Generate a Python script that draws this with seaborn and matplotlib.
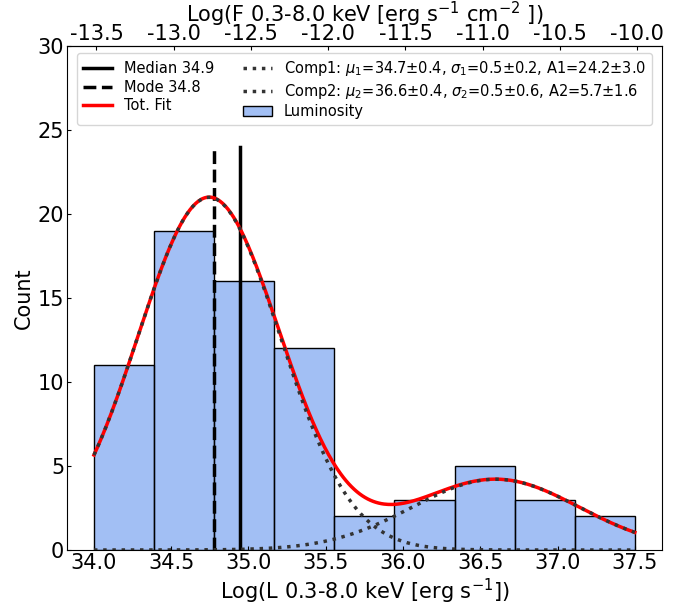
import numpy as np
import pandas as pd
import matplotlib
matplotlib.use("Agg")
import matplotlib.pyplot as plt
import seaborn as sns

# Histogram of X-ray luminosities (9 equal bins between the min and max value)
lum_min, lum_max = 34.0, 37.5
counts = [11, 19, 16, 12, 2, 3, 5, 3, 2]

# Summary statistics
median_lum = 34.945
mode_lum = 34.78
stat_line_top = 24

# Two-component Gaussian fit (area-normalised amplitudes)
mu1, sig1, amp1 = 34.745, 0.46, 24.2
mu2, sig2, amp2 = 36.60, 0.54, 5.7
comp1_label = r"Comp1: $\mu_1$=34.7$\pm$0.4, $\sigma_1$=0.5$\pm$0.2, A1=24.2$\pm$3.0"
comp2_label = r"Comp2: $\mu_2$=36.6$\pm$0.4, $\sigma_2$=0.5$\pm$0.6, A2=5.7$\pm$1.6"

# Offset between log luminosity and log flux
flux_offset = 47.516
flux_ticks = [-13.5, -13.0, -12.5, -12.0, -11.5, -11.0, -10.5, -10.0]


def gauss(x, mu, sig, amp):
    return amp / (sig * np.sqrt(2 * np.pi)) * np.exp(-(x - mu) ** 2 / (2 * sig ** 2))


edges = np.linspace(lum_min, lum_max, len(counts) + 1)
centers = 0.5 * (edges[:-1] + edges[1:])
df = pd.DataFrame({"lum": centers, "n": counts})

plt.rcParams["font.family"] = ["DejaVu Sans"]
plt.rcParams["axes.unicode_minus"] = False
fig = plt.figure(figsize=(6.83, 6.04), dpi=100)
ax = fig.add_axes([0.098, 0.0894, 0.871, 0.8346])

ln_med, = ax.plot([median_lum, median_lum], [0, stat_line_top], color="black",
                  lw=2.5, ls="-", label=f"Median {median_lum:.1f}")
ln_mode, = ax.plot([mode_lum, mode_lum], [0, stat_line_top], color="black",
                   lw=2.5, ls="--", label=f"Mode {mode_lum:.1f}")

xx = np.linspace(lum_min, lum_max, 400)
c1 = gauss(xx, mu1, sig1, amp1)
c2 = gauss(xx, mu2, sig2, amp2)
ln_tot, = ax.plot(xx, c1 + c2, color="red", lw=2.5, label="Tot. Fit")
ln_c1, = ax.plot(xx, c1, color="#333333", lw=2.5, ls=":", label=comp1_label)
ln_c2, = ax.plot(xx, c2, color="#333333", lw=2.5, ls=":", label=comp2_label)

sns.histplot(data=df, x="lum", weights="n", bins=len(counts),
             binrange=(lum_min, lum_max), ax=ax,
             color="cornflowerblue", alpha=0.6, edgecolor="black",
             linewidth=1.0, label="Luminosity")
bars = ax.containers[0]

ax.set_xlim(33.825, 37.675)
ax.set_ylim(0, 30)
ax.set_yticks([0, 5, 10, 15, 20, 25, 30])
ax.set_xticks([34.0, 34.5, 35.0, 35.5, 36.0, 36.5, 37.0, 37.5])
ax.set_xlabel(r"Log(L 0.3-8.0 keV [erg s$^{-1}$])", fontsize=15, labelpad=3)
ax.set_ylabel("Count", fontsize=15, labelpad=2.4)
ax.tick_params(axis="both", labelsize=15, direction="in", length=3, pad=2)

sec = ax.secondary_xaxis("top", functions=(lambda L: L - flux_offset,
                                            lambda F: F + flux_offset))
sec.set_xticks(flux_ticks)
sec.set_xlabel(r"Log(F 0.3-8.0 keV [erg s$^{-1}$ cm$^{-2}$ ])", fontsize=15, labelpad=1.3)
sec.tick_params(axis="x", labelsize=15, direction="in", length=3, pad=1.5)

handles = [ln_med, ln_mode, ln_tot, ln_c1, ln_c2, bars]
labels = [h.get_label() for h in handles[:-1]] + ["Luminosity"]
ax.legend(handles, labels, loc="upper center", ncol=2, fontsize=10.5,
          labelspacing=0.25)

fig.savefig("out.png", dpi=100)
